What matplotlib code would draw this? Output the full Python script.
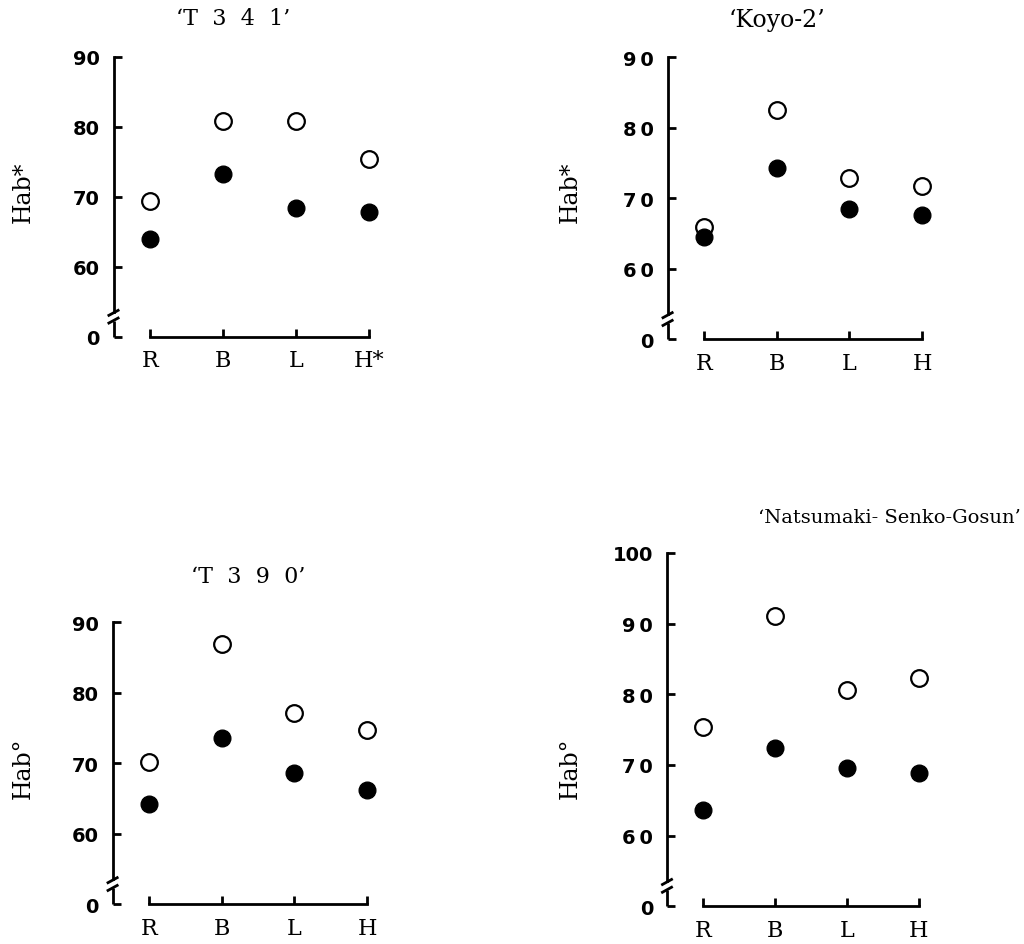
import matplotlib
matplotlib.use("Agg")
import matplotlib.pyplot as plt

# categories on the x axis
cats = ['R', 'B', 'L', 'H']

# values (open = white circles, fill = black dots)
t341_open = [69.5, 80.8, 80.8, 75.5]
t341_fill = [64.0, 73.3, 68.5, 67.9]
koyo_open = [65.9, 82.6, 72.9, 71.8]
koyo_fill = [64.5, 74.3, 68.5, 67.6]
t390_open = [70.2, 86.9, 77.1, 74.7]
t390_fill = [64.3, 73.6, 68.7, 66.2]
nats_open = [75.4, 91.1, 80.6, 82.3]
nats_fill = [63.6, 72.4, 69.6, 68.9]

# y ticks: 50 on the broken axis stands for 0
ticks_90 = [50, 60, 70, 80, 90]
labels_90 = ['0', '60', '70', '80', '90']
labels_90s = ['0', '6\u20090', '7\u20090', '8\u20090', '9\u20090']
ticks_100 = [50, 60, 70, 80, 90, 100]
labels_100 = ['0', '6\u20090', '7\u20090', '8\u20090', '9\u20090', '100']

serif = 'DejaVu Serif'
tickfont = dict(family='DejaVu Sans', weight='bold', size=14)

W, H = 1024, 945
fig = plt.figure(figsize=(W / 100, H / 100), dpi=100)


def panel(rect, opn, fil, yticks, ylabels, ytop, xlabels):
    ax = fig.add_axes(rect)
    x = range(len(cats))
    ax.plot(x, opn, 'o', ms=12, mfc='white', mec='black', mew=1.6, ls='none', zorder=3)
    ax.plot(x, fil, 'o', ms=12, mfc='black', mec='black', ls='none', zorder=3)
    ax.set_xlim(-0.5, 3.3)
    ax.set_ylim(48, ytop + 1)
    for s in ['top', 'right']:
        ax.spines[s].set_visible(False)
    ax.spines['left'].set_bounds(53.6, ytop)
    ax.spines['left'].set_linewidth(2)
    ax.spines['bottom'].set_position(('data', 50))
    ax.spines['bottom'].set_bounds(0, 3)
    ax.spines['bottom'].set_linewidth(2)
    ax.set_xticks(list(x))
    ax.set_xticklabels(xlabels, family=serif, fontsize=16)
    ax.set_yticks(yticks)
    ax.set_yticklabels(ylabels, **tickfont)
    ax.tick_params(axis='y', direction='in', length=6, width=2, pad=10)
    ax.tick_params(axis='x', direction='in', length=6, width=2, pad=9)
    # axis break marks
    k = dict(color='black', lw=2, clip_on=False, solid_capstyle='butt')
    ax.plot([-0.58, -0.42], [53.0, 53.9], **k)
    ax.plot([-0.58, -0.42], [51.9, 52.8], **k)
    ax.plot([-0.5, -0.5], [50, 52.3], **k)
    return ax


panel([113.5 / W, 1 - 352 / H, 277.5 / W, 301 / H],
      t341_open, t341_fill, ticks_90, labels_90, 90, ['R', 'B', 'L', 'H*'])
panel([667.6 / W, 1 - 354.6 / H, 276.3 / W, 303.2 / H],
      koyo_open, koyo_fill, ticks_90, labels_90s, 90, cats)
panel([112.6 / W, 1 - 919.6 / H, 276.3 / W, 303.2 / H],
      t390_open, t390_fill, ticks_90, labels_90, 90, cats)
panel([667 / W, 1 - 921.5 / H, 273.6 / W, 374.7 / H],
      nats_open, nats_fill, ticks_100, labels_100, 100, cats)

# titles
fig.text(233 / W, 1 - 19 / H, '\u2018T  3  4  1\u2019', ha='center', va='center', family=serif, fontsize=16)
fig.text(777 / W, 1 - 20 / H, '\u2018Koyo-2\u2019', ha='center', va='center', family=serif, fontsize=17)
fig.text(248 / W, 1 - 577 / H, '\u2018T  3  9  0\u2019', ha='center', va='center', family=serif, fontsize=16)
fig.text(1021 / W, 1 - 518 / H, '\u2018Natsumaki- Senko-Gosun\u2019', ha='right', va='center', family=serif, fontsize=14)

# y labels
fig.text(23 / W, 1 - 192 / H, 'Hab*', rotation=90, ha='center', va='center', family=serif, fontsize=17)
fig.text(570 / W, 1 - 192 / H, 'Hab*', rotation=90, ha='center', va='center', family=serif, fontsize=17)
fig.text(23 / W, 1 - 768 / H, 'Hab\u00b0', rotation=90, ha='center', va='center', family=serif, fontsize=17)
fig.text(570 / W, 1 - 768 / H, 'Hab\u00b0', rotation=90, ha='center', va='center', family=serif, fontsize=17)

fig.savefig('out.png', dpi=100)
